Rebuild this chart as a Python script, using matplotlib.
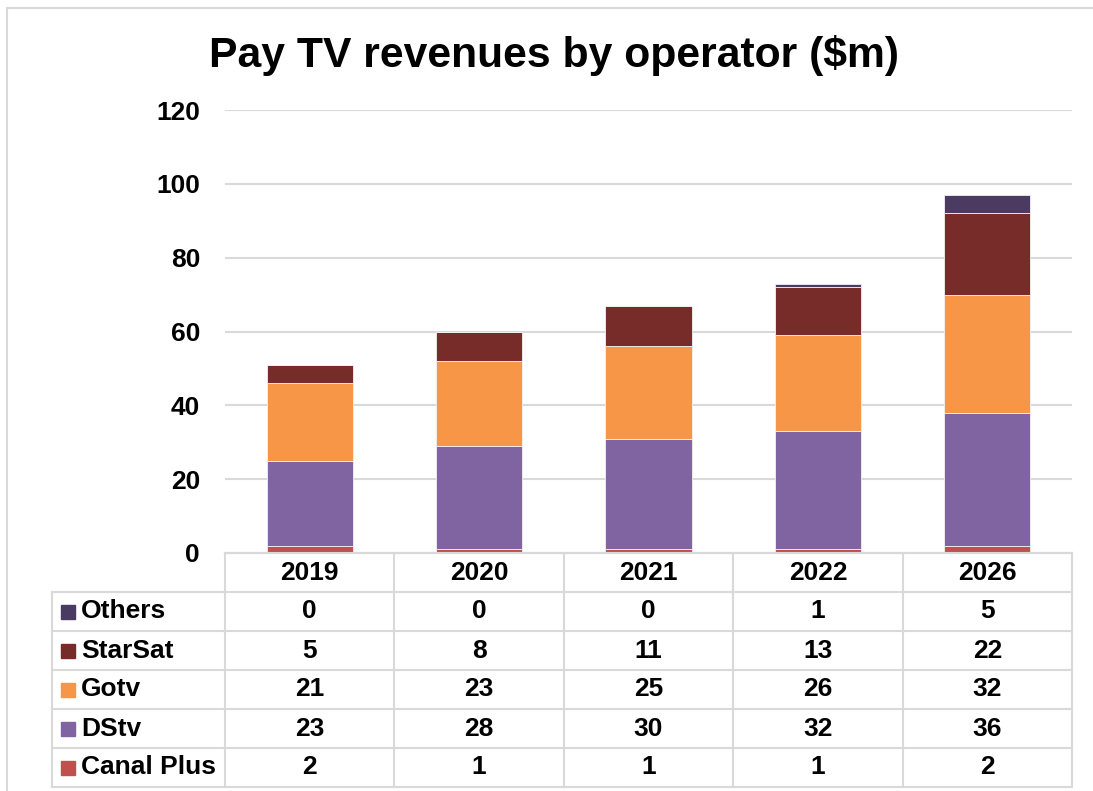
import matplotlib
matplotlib.use("Agg")
import matplotlib.pyplot as plt
from matplotlib.patches import Rectangle
from matplotlib.lines import Line2D

plt.rcParams['font.family'] = ['Liberation Sans', 'DejaVu Sans']
plt.rcParams['font.weight'] = 'bold'

years = ['2019', '2020', '2021', '2022', '2026']
canal_plus = [2, 1, 1, 1, 2]
dstv = [23, 28, 30, 32, 36]
gotv = [21, 23, 25, 26, 32]
starsat = [5, 8, 11, 13, 22]
others = [0, 0, 0, 1, 5]

series_names = ['Canal Plus', 'DStv', 'Gotv', 'StarSat', 'Others']
series_vals = [canal_plus, dstv, gotv, starsat, others]
colors = ['#C0504D', '#8064A2', '#F79646', '#772C2A', '#4B3A62']

W, H = 1093, 791
fig = plt.figure(figsize=(W / 100, H / 100), dpi=100)
fig.patch.set_facecolor('white')

# figure border
fig.add_artist(Line2D([7 / W, 1.0], [1 - 8 / H, 1 - 8 / H], color='#D9D9D9', lw=1.5, transform=fig.transFigure))
fig.add_artist(Line2D([7 / W, 7 / W], [0, 1 - 8 / H], color='#D9D9D9', lw=1.5, transform=fig.transFigure))

ax_l, ax_r, ax_t, ax_b = 225, 1072, 110, 553
ax = fig.add_axes([ax_l / W, 1 - ax_b / H, (ax_r - ax_l) / W, (ax_b - ax_t) / H])
x = list(range(len(years)))
bottom = [0] * len(years)
for name, vals, c in zip(series_names, series_vals, colors):
    ax.bar(x, vals, bottom=bottom, width=0.51, color=c, edgecolor='#F2F2F2', linewidth=0.6, zorder=3)
    bottom = [b + v for b, v in zip(bottom, vals)]

ax.set_xlim(-0.5, len(years) - 0.5)
ax.set_ylim(0, 120)
ax.set_yticks(range(0, 121, 20))
ax.tick_params(axis='y', length=0, pad=18, labelsize=19)
ax.set_xticks([])
for lab in ax.get_yticklabels():
    lab.set_fontweight('bold')
ax.grid(axis='y', color='#D9D9D9', lw=1.5, zorder=0)
for s in ['top', 'right', 'left']:
    ax.spines[s].set_visible(False)
ax.spines['bottom'].set_color('#D9D9D9')
ax.spines['bottom'].set_linewidth(1.5)

fig.text(554 / W, 1 - 55 / H, 'Pay TV revenues by operator ($m)', ha='center', va='center',
         fontsize=30.7, fontweight='bold')

# data table
tab_l, tab_r, tab_t, tab_b = 52, 1072, 553, 787
unit = (ax_r - ax_l) / len(years)
xmin = -0.5 - (ax_l - tab_l) / unit
tab = fig.add_axes([tab_l / W, 1 - tab_b / H, (tab_r - tab_l) / W, (tab_b - tab_t) / H])
tab.set_xlim(xmin, len(years) - 0.5)
nrows = len(series_names) + 1
tab.set_ylim(nrows, 0)
tab.axis('off')
gc = '#D9D9D9'
# horizontal lines
tab.plot([-0.5, len(years) - 0.5], [0, 0], color=gc, lw=1.5, clip_on=False)
for r in range(1, nrows + 1):
    tab.plot([xmin, len(years) - 0.5], [r, r], color=gc, lw=1.5, clip_on=False)
# vertical lines
for k in range(len(years) + 1):
    tab.plot([-0.5 + k, -0.5 + k], [0, nrows], color=gc, lw=1.5, clip_on=False)
tab.plot([xmin, xmin], [1, nrows], color=gc, lw=1.5, clip_on=False)

fs = 19
for i, yr in enumerate(years):
    tab.text(i, 0.5, yr, ha='center', va='center', fontsize=fs, fontweight='bold')

order = list(reversed(range(len(series_names))))
sq_w = 14 / unit
for r, si in enumerate(order, start=1):
    yc = r + 0.5
    tab.add_patch(Rectangle((xmin + 9 / unit, yc - 7 / 39), sq_w, 14 / 39, color=colors[si], clip_on=False))
    tab.text(xmin + 29 / unit, yc, series_names[si], ha='left', va='center', fontsize=fs, fontweight='bold')
    for i, v in enumerate(series_vals[si]):
        tab.text(i, yc, str(v), ha='center', va='center', fontsize=fs, fontweight='bold')

fig.savefig('out.png', dpi=100, facecolor='white')
